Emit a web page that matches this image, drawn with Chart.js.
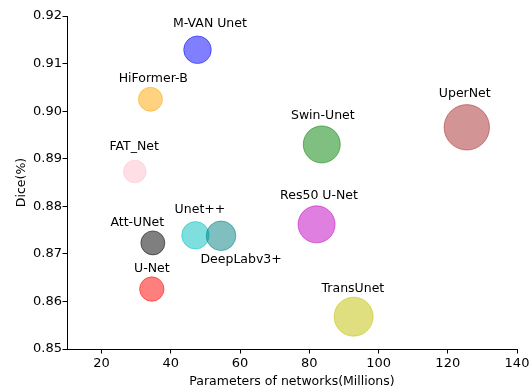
<!DOCTYPE html>
<html>
<head>
<meta charset="utf-8">
<script src="https://cdn.jsdelivr.net/npm/chart.js@4"></script>
<style>
  html, body { margin: 0; padding: 0; background: #fff; }
  #wrap { width: 532px; height: 388px; }
</style>
</head>
<body>
<div id="wrap"><canvas id="c" width="532" height="388"></canvas></div>
<script>
// ---- data ----
const models = ['M-VAN Unet', 'HiFormer-B', 'FAT_Net', 'Swin-Unet', 'UperNet', 'Res50 U-Net',
                'TransUnet', 'Att-UNet', 'Unet++', 'DeepLabv3+', 'U-Net'];
const params = [47.7, 34.1, 29.6, 83.6, 125.5, 82.1, 92.8, 34.8, 47.1, 54.5, 34.5];
const dice   = [0.9129, 0.9025, 0.8873, 0.8930, 0.8966, 0.8762, 0.8568, 0.8723, 0.8739, 0.8738, 0.8626];
const bubbleRadius = [13.8, 12, 11.3, 18.5, 22.7, 18.5, 19.5, 12, 13.7, 14.8, 12.2];
const baseColors = ['0,0,255', '255,165,0', '255,192,203', '0,128,0', '165,42,42', '191,0,191',
                    '191,191,0', '0,0,0', '0,191,191', '0,128,128', '255,0,0'];
// label anchor positions (data coordinates)
const labelX = [51.3, 34.9, 29.4, 83.9, 124.9, 82.8, 92.6, 30.3, 48.4, 60.3, 34.5];
const labelY = [0.9183, 0.90683, 0.89244, 0.89911, 0.90368, 0.88229, 0.86266, 0.87654, 0.87919, 0.86867, 0.86693];
const xTicks = [20, 40, 60, 80, 100, 120, 140];
const yTicks = [0.85, 0.86, 0.87, 0.88, 0.89, 0.90, 0.91, 0.92];

const points = params.map((p, i) => ({ x: p, y: dice[i], r: bubbleRadius[i] }));

const labelPlugin = {
  id: 'bubbleLabels',
  afterDatasetsDraw(chart) {
    const { ctx, scales: { x, y } } = chart;
    ctx.save();
    ctx.font = '12.5px "DejaVu Sans"';
    ctx.fillStyle = '#000';
    ctx.textAlign = 'center';
    ctx.textBaseline = 'middle';
    models.forEach((m, i) => {
      ctx.fillText(m, x.getPixelForValue(labelX[i]), y.getPixelForValue(labelY[i]));
    });
    ctx.restore();
  }
};

const tickFont = { family: 'DejaVu Sans', size: 13 };

new Chart(document.getElementById('c'), {
  type: 'bubble',
  data: {
    datasets: [{
      data: points,
      backgroundColor: baseColors.map(c => `rgba(${c},0.5)`),
      borderColor: baseColors.map(c => `rgba(${c},0.5)`),
      borderWidth: 1,
      hoverRadius: 0
    }]
  },
  options: {
    responsive: false,
    animation: false,
    events: [],
    layout: { padding: { top: 16, right: 15, left: 0, bottom: 0 }, autoPadding: false },
    plugins: { legend: { display: false }, tooltip: { enabled: false } },
    scales: {
      x: {
        type: 'linear',
        min: 10, max: 140,
        afterBuildTicks: s => { s.ticks = xTicks.map(v => ({ value: v })); },
        afterFit: s => { s.height = 39; },
        grid: { drawOnChartArea: false, drawTicks: true, tickLength: 4.5, color: '#000', lineWidth: 1 },
        border: { display: true, color: '#000', width: 1 },
        ticks: { color: '#000', font: tickFont, padding: 2.5, maxRotation: 0, callback: v => String(v) },
        title: { display: true, text: 'Parameters of networks(Millions)', color: '#000',
                 font: { family: 'DejaVu Sans', size: 12.5, lineHeight: 1 }, padding: { top: 0, bottom: 0 } }
      },
      y: {
        type: 'linear',
        min: 0.85, max: 0.92,
        afterBuildTicks: s => { s.ticks = yTicks.map(v => ({ value: v })); },
        afterFit: s => { s.width = 67; },
        grid: { drawOnChartArea: false, drawTicks: true, tickLength: 4.5, color: '#000', lineWidth: 1 },
        border: { display: true, color: '#000', width: 1 },
        ticks: { color: '#000', font: tickFont, padding: 0.5, callback: v => Number(v).toFixed(2) },
        title: { display: true, text: 'Dice(%)', color: '#000',
                 font: { family: 'DejaVu Sans', size: 12.5, lineHeight: 1.2 }, padding: { top: 14, bottom: 0 } }
      }
    }
  },
  plugins: [labelPlugin]
});
</script>
</body>
</html>
